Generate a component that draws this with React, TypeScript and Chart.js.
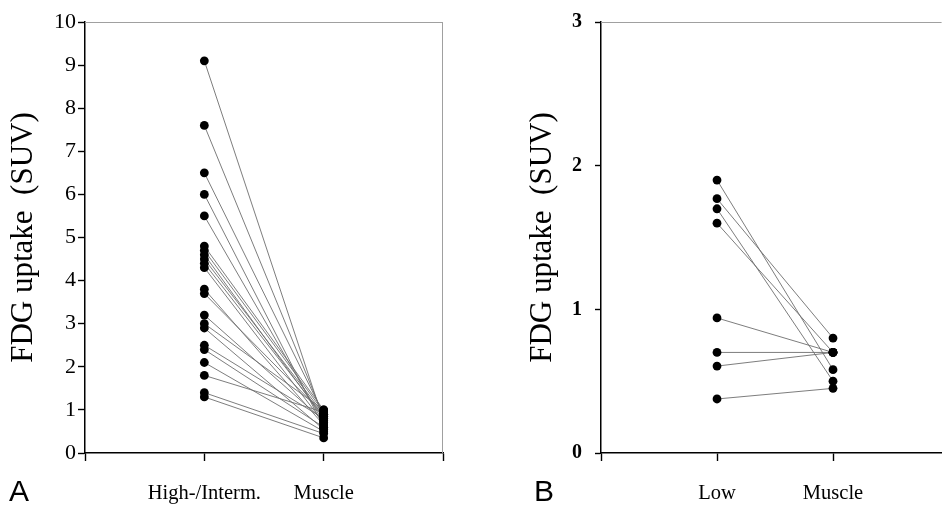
import React, { useEffect, useRef } from "react";
import { Chart, registerables } from "chart.js";
Chart.register(...registerables);

// Panel A data
const highValues = [9.1, 7.6, 6.5, 6.0, 5.5, 4.8, 4.7, 4.6, 4.5, 4.4, 4.3, 3.8, 3.7, 3.2, 3.0, 2.9, 2.5, 2.4, 2.1, 1.8, 1.4, 1.3];
const highMuscle = [0.75, 0.85, 0.9, 0.6, 0.7, 1.0, 0.95, 0.8, 0.9, 0.85, 0.7, 0.65, 0.9, 0.75, 1.0, 0.55, 0.8, 0.6, 0.5, 0.95, 0.45, 0.35];
const catA = ["", "High-/Interm.", "Muscle", ""];
const yTicksA = [0, 1, 2, 3, 4, 5, 6, 7, 8, 9, 10];

// Panel B data
const lowValues = [1.9, 1.77, 1.7, 1.6, 0.94, 0.7, 0.605, 0.376];
const lowMuscle = [0.58, 0.8, 0.5, 0.7, 0.7, 0.7, 0.7, 0.45];
const catB = ["", "Low", "Muscle"];
const yTicksB = [0, 1, 2, 3];

const SERIF = "'Liberation Serif', 'Times New Roman', serif";

const framePlugin = {
  id: "frame",
  beforeDatasetsDraw(chart: any, _args: any, opts: any) {
    const { ctx, chartArea } = chart;
    const { left, top, right, bottom } = chartArea;
    ctx.save();
    ctx.strokeStyle = "#a0a0a0";
    ctx.lineWidth = 1;
    ctx.beginPath();
    ctx.moveTo(left, top + 0.5);
    ctx.lineTo(right, top + 0.5);
    if (opts && opts.right) {
      ctx.moveTo(right - 0.5, top);
      ctx.lineTo(right - 0.5, bottom);
    }
    ctx.stroke();
    ctx.restore();
  },
};

function buildDatasets(a: number[], b: number[]) {
  const lines = a.map((v, i) => ({
    type: "line" as const,
    data: [
      { x: 1, y: v },
      { x: 2, y: b[i] },
    ],
    borderColor: "#6e6e6e",
    borderWidth: 0.9,
    pointRadius: 0,
    fill: false,
    order: 2,
  }));
  const pts = {
    type: "scatter" as const,
    data: [...a.map((v) => ({ x: 1, y: v })), ...b.map((v) => ({ x: 2, y: v }))],
    pointRadius: 4.4,
    pointBackgroundColor: "#000",
    pointBorderColor: "#000",
    pointBorderWidth: 0,
    showLine: false,
    order: 1,
  };
  return [...lines, pts];
}

type PanelProps = {
  left: number;
  width: number;
  a: number[];
  b: number[];
  cats: string[];
  yTicks: number[];
  xMax: number;
  xTicks: number[];
  axisWidth: number;
  rightPad: number;
  boldY: boolean;
  ySize: number;
  yPad: number;
  yTickLen: number;
  titlePad: number;
  frameRight: boolean;
};

function zeroPad(s: any) {
  s.paddingLeft = 0;
  s.paddingRight = 0;
  s.paddingTop = 0;
  s.paddingBottom = 0;
}

function Panel(p: PanelProps) {
  const ref = useRef<HTMLCanvasElement>(null);
  useEffect(() => {
    if (!ref.current) return;
    const chart = new Chart(ref.current, {
      type: "scatter",
      data: { datasets: buildDatasets(p.a, p.b) as any },
      plugins: [framePlugin],
      options: {
        animation: false,
        responsive: false,
        devicePixelRatio: 1,
        layout: { padding: { top: 22, right: p.rightPad, left: 0, bottom: 0 } },
        plugins: {
          legend: { display: false },
          tooltip: { enabled: false },
          frame: { right: p.frameRight },
        } as any,
        scales: {
          x: {
            type: "linear",
            min: 0,
            max: p.xMax,
            afterBuildTicks: (s: any) => {
              s.ticks = p.xTicks.map((v) => ({ value: v }));
            },
            afterFit: (s: any) => {
              s.height = 56;
              zeroPad(s);
            },
            ticks: {
              autoSkip: false,
              maxRotation: 0,
              color: "#000",
              padding: 20,
              font: { family: SERIF, size: 20.5 },
              callback: (v: any) => p.cats[Number(v)] ?? "",
            },
            grid: {
              drawOnChartArea: false,
              drawTicks: true,
              tickLength: 8,
              tickColor: "#000",
              tickWidth: 1.4,
            },
            border: { display: true, color: "#000", width: 1.5 },
          },
          y: {
            type: "linear",
            min: p.yTicks[0],
            max: p.yTicks[p.yTicks.length - 1],
            afterBuildTicks: (s: any) => {
              s.ticks = p.yTicks.map((v) => ({ value: v }));
            },
            afterFit: (s: any) => {
              s.width = p.axisWidth;
              zeroPad(s);
            },
            ticks: {
              color: "#000",
              padding: p.yPad,
              font: { family: SERIF, size: p.ySize, weight: p.boldY ? "bold" : "normal" },
            },
            grid: {
              drawOnChartArea: false,
              drawTicks: true,
              tickLength: p.yTickLen,
              tickColor: "#000",
              tickWidth: 1.4,
            },
            border: { display: true, color: "#000", width: 1.5 },
            title: {
              display: true,
              text: "FDG uptake  (SUV)",
              color: "#000",
              font: { family: SERIF, size: 31 },
              padding: { top: p.titlePad, bottom: 0 },
            },
          },
        },
      } as any,
    });
    return () => chart.destroy();
  }, []);
  return (
    <canvas
      ref={ref}
      width={p.width}
      height={509}
      style={{ position: "absolute", left: p.left, top: 0, width: p.width, height: 509 }}
    />
  );
}

export default function App() {
  const letter: React.CSSProperties = {
    position: "absolute",
    top: 474,
    fontFamily: "'Liberation Sans', Arial, sans-serif",
    fontSize: 30,
    lineHeight: "34px",
    color: "#000",
  };
  return (
    <div
      style={{
        position: "fixed",
        left: 0,
        top: 0,
        width: 946,
        height: 509,
        overflow: "hidden",
        background: "#fff",
      }}
    >
      <Panel
        left={0}
        width={470}
        a={highValues}
        b={highMuscle}
        cats={catA}
        yTicks={yTicksA}
        xMax={3}
        xTicks={[0, 1, 2, 3]}
        axisWidth={85}
        rightPad={27}
        boldY={false}
        ySize={22}
        yPad={2}
        yTickLen={7}
        titlePad={5}
        frameRight={true}
      />
      <Panel
        left={470}
        width={476}
        a={lowValues}
        b={lowMuscle}
        cats={catB}
        yTicks={yTicksB}
        xMax={2.936}
        xTicks={[0, 1, 2]}
        axisWidth={131}
        rightPad={0}
        boldY={true}
        ySize={20}
        yPad={13}
        yTickLen={6}
        titlePad={54}
        frameRight={false}
      />
      <div style={{ ...letter, left: 9 }}>A</div>
      <div style={{ ...letter, left: 534 }}>B</div>
    </div>
  );
}
